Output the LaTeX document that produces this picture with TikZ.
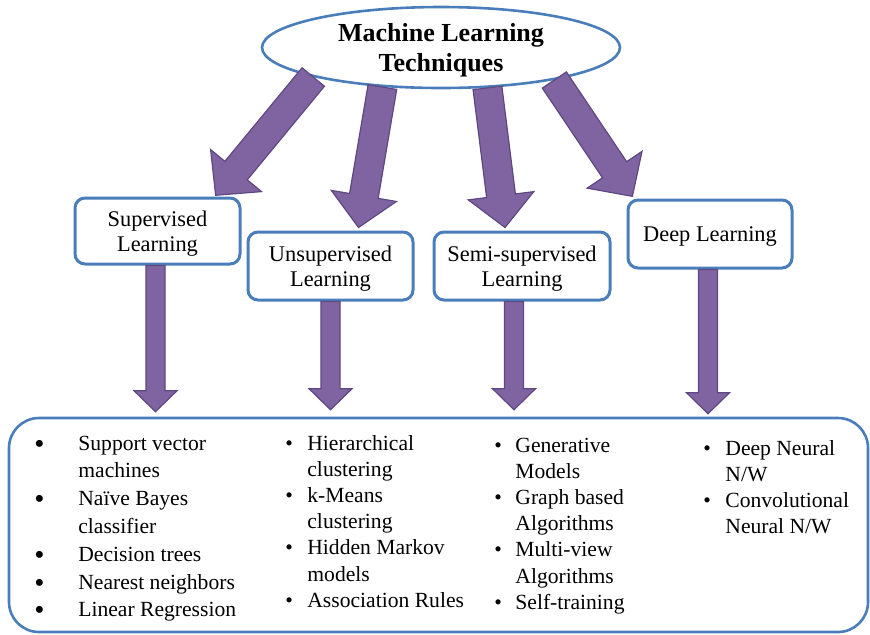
\documentclass[tikz,border=0pt]{standalone}
\usepackage{fontspec}
\setmainfont{Liberation Serif}
\usepackage{tikz}
\usetikzlibrary{shapes.geometric,calc}
\definecolor{BoxBlue}{HTML}{4A7EBB}
\definecolor{ArrowPurple}{HTML}{8064A2}
\definecolor{ArrowEdge}{HTML}{5E4882}

% block arrow: from, to, shaft width, head width, head length
\newcommand{\fatarrow}[5]{%
  \path[fatarr] let \p1=(#1), \p2=(#2),
      \n1={atan2(\y2-\y1,\x2-\x1)}, \n2={veclen(\x2-\x1,\y2-\y1)} in
    [shift={(\p1)}, rotate=\n1]
    (0pt,-#3/2) -- ({\n2-#5},-#3/2) -- ({\n2-#5},-#4/2) -- (\n2,0pt)
    -- ({\n2-#5},#4/2) -- ({\n2-#5},#3/2) -- (0pt,#3/2) -- cycle;}
\newcommand{\bigdot}{\smash{\raisebox{-1.5pt}{\fontsize{14.5}{0}\selectfont\textbullet}}}
\newcommand{\smalldot}{\textbullet}

\begin{document}
\begin{tikzpicture}[
  x=0.5pt, y=-0.5pt,
  % title ellipse
  topnode/.style={draw=BoxBlue, line width=1.3pt, fill=white,
                  shape=ellipse, minimum width=179pt, minimum height=40.5pt,
                  inner sep=0pt, align=center, text depth=0pt,
                  font=\fontsize{13}{15}\selectfont\bfseries},
  % category boxes
  catbox/.style={draw=BoxBlue, line width=1.5pt, fill=white,
                 rounded corners=5pt, minimum height=34pt, text depth=0pt,
                 align=center, font=\fontsize{11.2}{12.5}\selectfont},
  % big box round the lists
  listbox/.style={draw=BoxBlue, line width=1.3pt,
                  rounded corners=15pt, minimum width=429.5pt,
                  minimum height=107pt, inner sep=0pt},
  listcol/.style={anchor=base west, inner sep=0pt, align=left,
                  font=\fontsize{10.8}{13.1}\selectfont},
  % purple block arrows
  fatarr/.style={fill=ArrowPurple, draw=ArrowEdge, line width=0.6pt,
                 line join=miter},
]
\useasboundingbox (0,0) rectangle (870,634);

%% ── Nodes ────────────────────────────────────────────────────────────────
\node[topnode] (ml) at (441,47.5) {Machine Learning\\Techniques};

\node[catbox, minimum width=82.5pt, minimum height=33pt]
              (sup)  at (157.5,231) {Supervised\\Learning};
\node[catbox, minimum width=82.5pt] (uns)  at (330.5,266) {Unsupervised\\Learning};
\node[catbox, minimum width=88pt]   (semi) at (522,266)   {Semi-supervised\\Learning};
\node[catbox, minimum width=82pt]   (deep) at (710,234)   {Deep Learning};

\node[listbox] (list) at (438.5,525) {};

%% ── Lists ────────────────────────────────────────────────────────────────
\node[listcol, font=\fontsize{10.8}{13.9}\selectfont] (colA) at (34,450) {%
  \begin{tabular}[t]{@{}p{22pt}@{}l@{}}
  \bigdot & Support vector\\
          & machines\\
  \bigdot & Naïve Bayes\\
          & classifier\\
  \bigdot & Decision trees\\
  \bigdot & Nearest neighbors\\
  \bigdot & Linear Regression
  \end{tabular}};
\node[listcol] (colB) at (285,450) {%
  \begin{tabular}[t]{@{}p{11pt}@{}l@{}}
  \smalldot & Hierarchical\\
            & clustering\\
  \smalldot & k-Means\\
            & clustering\\
  \smalldot & Hidden Markov\\
            & models\\
  \smalldot & Association Rules
  \end{tabular}};
\node[listcol] (colC) at (494,452) {%
  \begin{tabular}[t]{@{}p{10.5pt}@{}l@{}}
  \smalldot & Generative\\
            & Models\\
  \smalldot & Graph based\\
            & Algorithms\\
  \smalldot & Multi-view\\
            & Algorithms\\
  \smalldot & Self-training
  \end{tabular}};
\node[listcol] (colD) at (703,455) {%
  \begin{tabular}[t]{@{}p{11pt}@{}l@{}}
  \smalldot & Deep Neural\\
            & N/W\\
  \smalldot & Convolutional\\
            & Neural N/W
  \end{tabular}};

%% ── Arrows from the title ────────────────────────────────────────────────
\fatarrow{ml.193.6}{$(sup.north)+(58,-1)$}{14.5pt}{33pt}{16pt}
\fatarrow{ml.214.7}{$(uns.north)+(28,-3)$}{14.5pt}{33pt}{16pt}
\fatarrow{ml.319.5}{$(semi.north)+(-17,-3)$}{14.5pt}{33pt}{16pt}
\fatarrow{ml.344}{$(deep.north west)+(6,-2)$}{14.5pt}{33pt}{16pt}

%% ── Arrows down to the lists ─────────────────────────────────────────────
\fatarrow{$(sup.south)+(-2,0)$}{$(sup.south |- list.north)+(-2,-5)$}{9.5pt}{21.5pt}{10.5pt}
\fatarrow{uns.south}{$(uns.south |- list.north)+(0,-7)$}{9.5pt}{21.5pt}{10.5pt}
\fatarrow{$(semi.south)+(-8,0)$}{$(semi.south |- list.north)+(-8,-7)$}{9.5pt}{21.5pt}{10.5pt}
\fatarrow{$(deep.south)+(-2,0)$}{$(deep.south |- list.north)+(-2,-3)$}{9.5pt}{21.5pt}{10.5pt}

\end{tikzpicture}
\end{document}
